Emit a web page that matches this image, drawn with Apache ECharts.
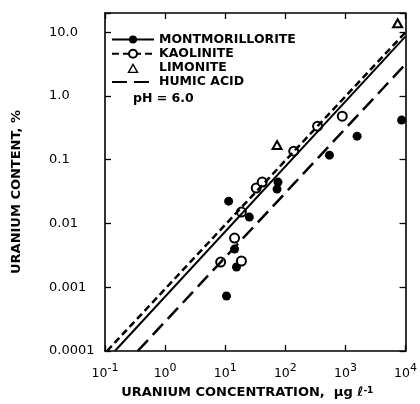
<!DOCTYPE html>
<html>
<head>
<meta charset="utf-8">
<script src="https://cdn.jsdelivr.net/npm/echarts@6/dist/echarts.min.js"></script>
<style>
html, body { margin: 0; padding: 0; background: #fff; }
#chart { width: 420px; height: 404px; }
</style>
</head>
<body>
<div id="chart"></div>
<script>
// tick labels
const xTickExp = ['-1', '0', '1', '2', '3', '4']
const yTickLabels = ['0.0001', '0.001', '0.01', '0.1', '1.0', '10.0']

// measured points (ug/l, %)
const montX = [11.4, 25.2, 14.3, 15.4, 10.5, 75.5, 72.8, 542, 1563, 8590]
const montY = [0.0224, 0.0126, 0.00397, 0.00208, 0.00073, 0.0446, 0.0346, 0.118, 0.234, 0.418]
const kaolX = [18.6, 14.3, 8.4, 18.6, 32.8, 41.2, 138, 344, 885]
const kaolY = [0.0151, 0.0059, 0.00248, 0.00258, 0.0359, 0.0446, 0.136, 0.336, 0.482]
const limoX = [72.8, 7380]
const limoY = [0.17, 13.8]

// fitted lines, end points
const montLineX = [0.146, 10000]
const montLineY = [0.0001, 8.6]
const kaolLineX = [0.108, 10000]
const kaolLineY = [0.0001, 10]
const humicLineX = [0.35, 10000]
const humicLineY = [0.0001, 3.15]

const zip = (xs, ys) => xs.map((x, i) => [x, ys[i]])

const font = 'DejaVu Sans'
const black = '#000'

const chart = echarts.init(document.getElementById('chart'))

const frameLine = { lineStyle: { color: black, width: 1.6 } }
const frameTick = { inside: true, length: 6, lineStyle: { color: black, width: 1.3 } }

// triangle in a 42x10 box so the legend does not stretch it
const triangleIcon = 'path://M0,0L0.01,0ZM16.5,9.5L25.5,9.5L21,1.5ZM42,10L41.99,10Z'

chart.setOption({
  animation: false,
  textStyle: { fontFamily: font, color: black },
  title: {
    text: 'pH = 6.0',
    left: 133,
    top: 92,
    padding: 0,
    textStyle: { fontFamily: font, fontSize: 12.5, fontWeight: 'bold', color: black }
  },
  legend: {
    orient: 'vertical',
    left: 111,
    top: 33,
    padding: 0,
    itemWidth: 42,
    itemHeight: 10,
    itemGap: 1.2,
    selectedMode: false,
    data: [
      'MONTMORILLORITE',
      'KAOLINITE',
      { name: 'LIMONITE', icon: triangleIcon, itemStyle: { color: '#fff', borderColor: black, borderWidth: 1.4, opacity: 1 }},
      { name: 'HUMIC ACID', itemStyle: { opacity: 0 }}
    ],
    textStyle: { fontFamily: font, fontSize: 12.5, fontWeight: 'bold', lineHeight: 12, color: black }
  },
  grid: { left: 105, right: 11, top: 13, bottom: 52 },
  xAxis: [
    {
      type: 'log',
      min: 0.1,
      max: 10000,
      position: 'bottom',
      axisLine: frameLine,
      axisTick: frameTick,
      splitLine: { show: false },
      axisLabel: {
        margin: 12,
        color: black,
        formatter: function(v) {
          const e = Math.round(Math.log10(v))
          return '{b|10}{s|' + xTickExp[e + 1] + '}'
        },
        rich: {
          b: { fontFamily: font, fontSize: 12.5, lineHeight: 22, color: black },
          s: { fontFamily: font, fontSize: 11, lineHeight: 10, verticalAlign: 'top', color: black }
        }
      },
      name: 'URANIUM CONCENTRATION,  μg ℓ{s|-1}',
      nameLocation: 'middle',
      nameGap: 35,
      nameTextStyle: {
        fontFamily: font,
        fontSize: 13,
        fontWeight: 'bold',
        color: black,
        padding: [0, 16, 0, 0],
        rich: {
          s: { fontFamily: font, fontSize: 9, fontWeight: 'bold', lineHeight: 8, verticalAlign: 'top', color: black }
        }
      }
    },
    {
      type: 'log',
      min: 0.1,
      max: 10000,
      position: 'top',
      axisLine: frameLine,
      axisTick: frameTick,
      axisLabel: { show: false },
      splitLine: { show: false }
    }
  ],
  yAxis: [
    {
      type: 'log',
      min: 0.0001,
      max: 20,
      position: 'left',
      axisLine: frameLine,
      axisTick: frameTick,
      splitLine: { show: false },
      axisLabel: {
        align: 'left',
        margin: 56,
        fontFamily: font,
        fontSize: 13,
        color: black,
        formatter: function(v) {
          const l = Math.log10(v)
          const e = Math.round(l)
          if (Math.abs(l - e) > 1e-6) return ''
          return yTickLabels[e + 4] || ''
        }
      },
      name: 'URANIUM CONTENT, %',
      nameLocation: 'middle',
      nameGap: 82,
      nameTextStyle: {
        fontFamily: font,
        fontSize: 13,
        fontWeight: 'bold',
        color: black,
        padding: [0, 20, 0, 0]
      }
    },
    {
      type: 'log',
      min: 0.0001,
      max: 20,
      position: 'right',
      axisLine: frameLine,
      axisTick: frameTick,
      axisLabel: { show: false },
      splitLine: { show: false }
    }
  ],
  series: [
    {
      name: 'MONTMORILLORITE',
      type: 'line',
      data: zip(montLineX, montLineY),
      symbol: 'circle',
      symbolSize: 8,
      showSymbol: false,
      itemStyle: { color: black },
      lineStyle: { color: black, width: 2 }
    },
    {
      name: 'KAOLINITE',
      type: 'line',
      data: zip(kaolLineX, kaolLineY),
      symbol: 'emptyCircle',
      symbolSize: 8,
      showSymbol: false,
      itemStyle: { color: black },
      lineStyle: { color: black, width: 2.5, type: [7, 4] }
    },
    {
      name: 'HUMIC ACID',
      type: 'line',
      data: zip(humicLineX, humicLineY),
      symbol: 'none',
      itemStyle: { color: black },
      lineStyle: { color: black, width: 2.5, type: [15, 7] }
    },
    {
      name: 'LIMONITE',
      type: 'scatter',
      data: zip(limoX, limoY),
      symbol: 'emptyTriangle',
      symbolSize: [9, 8],
      itemStyle: { color: black, borderWidth: 1.4, opacity: 1 }
    },
    {
      name: 'montPts',
      type: 'scatter',
      data: zip(montX, montY),
      symbol: 'circle',
      symbolSize: 9,
      clip: false,
      itemStyle: { color: black, opacity: 1 }
    },
    {
      name: 'kaolPts',
      type: 'scatter',
      data: zip(kaolX, kaolY),
      symbol: 'emptyCircle',
      symbolSize: 9,
      itemStyle: { color: black, borderWidth: 1.5, opacity: 1 }
    }
  ]
})
</script>
</body>
</html>
